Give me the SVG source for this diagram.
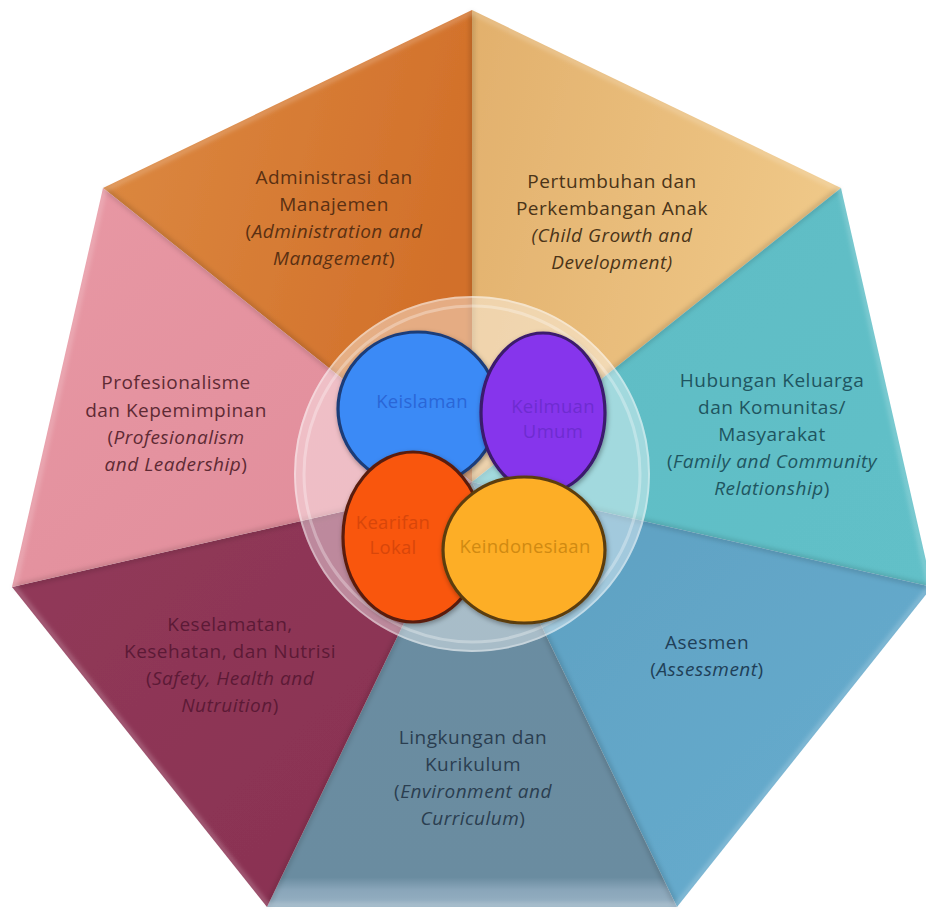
<svg xmlns="http://www.w3.org/2000/svg" width="926" height="914" viewBox="0 0 926 914">
  <defs>
    <linearGradient id="gAdmin" x1="0" y1="0" x2="1" y2="0.3">
      <stop offset="0" stop-color="#DC8A42"/>
      <stop offset="1" stop-color="#D2702A"/>
    </linearGradient>
    <linearGradient id="gTumbuh" x1="0" y1="0" x2="1" y2="0.3">
      <stop offset="0" stop-color="#E2B06C"/>
      <stop offset="1" stop-color="#EFC888"/>
    </linearGradient>
    <linearGradient id="gHub" x1="0" y1="0" x2="1" y2="1">
      <stop offset="0" stop-color="#5EBCC4"/>
      <stop offset="1" stop-color="#62C0C8"/>
    </linearGradient>
    <linearGradient id="gAses" x1="0" y1="0" x2="1" y2="1">
      <stop offset="0" stop-color="#5E9FC0"/>
      <stop offset="1" stop-color="#68AED0"/>
    </linearGradient>
    <linearGradient id="gLing" x1="0" y1="0" x2="0" y2="1">
      <stop offset="0" stop-color="#6A8DA2"/>
      <stop offset="0.93" stop-color="#6A8CA0"/>
      <stop offset="0.96" stop-color="#8AA6BA"/>
      <stop offset="1" stop-color="#96B0C2"/>
    </linearGradient>
    <linearGradient id="gKesel" x1="0" y1="0" x2="1" y2="1">
      <stop offset="0" stop-color="#923A5A"/>
      <stop offset="1" stop-color="#883050"/>
    </linearGradient>
    <linearGradient id="gProf" x1="0" y1="0" x2="1" y2="1">
      <stop offset="0" stop-color="#E898A4"/>
      <stop offset="1" stop-color="#E08C9A"/>
    </linearGradient>
    <filter id="blur" x="-10%" y="-10%" width="120%" height="120%">
      <feGaussianBlur stdDeviation="2.5"/>
    </filter>
    <filter id="shadow" x="-20%" y="-20%" width="140%" height="140%">
      <feDropShadow dx="1" dy="2" stdDeviation="2.5" flood-color="#000" flood-opacity="0.35"/>
    </filter>
    <filter id="soft" x="-5%" y="-5%" width="110%" height="110%">
      <feGaussianBlur stdDeviation="0.6"/>
    </filter>
    <style>
      .lbl { font-family: "Open Sans", "DejaVu Sans", sans-serif; font-size: 19px; letter-spacing: 0.5px; text-anchor: middle; }
      .it { font-style: italic; }
      .sep { stroke: #000; stroke-opacity: 0.18; stroke-width: 4; fill: none; }
      .clbl { font-family: "Open Sans", "DejaVu Sans", sans-serif; font-size: 18.5px; letter-spacing: 0.3px; text-anchor: middle; }
      .ring { stroke-width: 3.2; }
    </style>
  </defs>

  <rect width="926" height="914" fill="#FFFFFF"/>

  <g id="heptagon" filter="url(#soft)">
    <g id="seg-administrasi">
      <path d="M472,482 L103,188 L472,10 Z" fill="url(#gAdmin)"/>
    </g>
    <g id="seg-pertumbuhan">
      <path d="M472,482 L472,10 L841,188 Z" fill="url(#gTumbuh)"/>
    </g>
    <g id="seg-hubungan">
      <path d="M472,482 L841,188 L932,587 Z" fill="url(#gHub)"/>
    </g>
    <g id="seg-asesmen">
      <path d="M472,482 L932,587 L677,907 Z" fill="url(#gAses)"/>
    </g>
    <g id="seg-lingkungan">
      <path d="M472,482 L677,907 L267,907 Z" fill="url(#gLing)"/>
    </g>
    <g id="seg-keselamatan">
      <path d="M472,482 L267,907 L12,587 Z" fill="url(#gKesel)"/>
    </g>
    <g id="seg-profesionalisme">
      <path d="M472,482 L12,587 L103,188 Z" fill="url(#gProf)"/>
    </g>
  </g>

  <g id="connectors" filter="url(#blur)">
    <path class="sep" d="M472,482 L472,12"/>
    <path class="sep" d="M472,482 L105,189"/>
    <path class="sep" d="M472,482 L839,189"/>
    <path class="sep" d="M472,482 L930,587"/>
    <path class="sep" d="M472,482 L676,905"/>
    <path class="sep" d="M472,482 L268,905"/>
    <path class="sep" d="M472,482 L14,587"/>
  </g>

  <g id="outer-rim" fill="none" stroke="#FFFFFF" stroke-opacity="0.35" stroke-width="3" filter="url(#blur)">
    <path d="M472,12 L841,190 L930,587 L677,905 L267,905 L14,587 L104,190 Z"/>
  </g>

  <g id="labels">
    <g id="lbl-administrasi" class="lbl" fill="#5A3012">
      <text x="334" y="184">Administrasi dan</text>
      <text x="334" y="211">Manajemen</text>
      <text x="334" y="238">(<tspan class="it">Administration and</tspan></text>
      <text x="334" y="265"><tspan class="it">Management</tspan>)</text>
    </g>
    <g id="lbl-pertumbuhan" class="lbl" fill="#4A3418">
      <text x="612" y="188">Pertumbuhan dan</text>
      <text x="612" y="215">Perkembangan Anak</text>
      <text x="612" y="242" class="it">(Child Growth and</text>
      <text x="612" y="269" class="it">Development)</text>
    </g>
    <g id="lbl-hubungan" class="lbl" fill="#1F5560">
      <text x="772" y="387">Hubungan Keluarga</text>
      <text x="772" y="414">dan Komunitas/</text>
      <text x="772" y="441">Masyarakat</text>
      <text x="772" y="468">(<tspan class="it">Family and Community</tspan></text>
      <text x="772" y="495"><tspan class="it">Relationship</tspan>)</text>
    </g>
    <g id="lbl-profesionalisme" class="lbl" fill="#5E2A34">
      <text x="176" y="389">Profesionalisme</text>
      <text x="176" y="417">dan Kepemimpinan</text>
      <text x="176" y="444">(<tspan class="it">Profesionalism</tspan></text>
      <text x="176" y="471"><tspan class="it">and Leadership</tspan>)</text>
    </g>
    <g id="lbl-keselamatan" class="lbl" fill="#5C1A36">
      <text x="230" y="631">Keselamatan,</text>
      <text x="230" y="658">Kesehatan, dan Nutrisi</text>
      <text x="230" y="685">(<tspan class="it">Safety, Health and</tspan></text>
      <text x="230" y="712"><tspan class="it">Nutruition</tspan>)</text>
    </g>
    <g id="lbl-asesmen" class="lbl" fill="#1F4058">
      <text x="707" y="649">Asesmen</text>
      <text x="707" y="676">(<tspan class="it">Assessment</tspan>)</text>
    </g>
    <g id="lbl-lingkungan" class="lbl" fill="#2A3E50">
      <text x="473" y="744">Lingkungan dan</text>
      <text x="473" y="771">Kurikulum</text>
      <text x="473" y="798">(<tspan class="it">Environment and</tspan></text>
      <text x="473" y="825"><tspan class="it">Curriculum</tspan>)</text>
    </g>
  </g>

  <g id="center-disc">
    <circle cx="472" cy="474" r="178" fill="#FFFFFF" fill-opacity="0.42"/>
    <circle cx="472" cy="474" r="168" fill="none" stroke="#FFFFFF" stroke-opacity="0.3" stroke-width="3"/>
    <circle cx="472" cy="474" r="177" fill="none" stroke="#FFFFFF" stroke-opacity="0.35" stroke-width="2"/>
  </g>

  <g id="node-keislaman" filter="url(#shadow)">
    <ellipse cx="418" cy="409" rx="80" ry="77" fill="#3A8AF6" stroke="#1E3C78" class="ring"/>
  </g>
  <g id="node-kearifan" filter="url(#shadow)">
    <ellipse cx="413" cy="537" rx="70" ry="85" fill="#F9560A" stroke="#5A1E0C" class="ring"/>
  </g>
  <g id="node-keilmuan" filter="url(#shadow)">
    <ellipse cx="543" cy="413" rx="62" ry="80" fill="#8634EC" stroke="#3A1A6C" class="ring"/>
  </g>
  <g id="node-keindonesiaan" filter="url(#shadow)">
    <ellipse cx="524" cy="550" rx="81" ry="73" fill="#FDAE28" stroke="#5C3E10" class="ring"/>
  </g>

  <g id="center-labels">
    <text class="clbl" x="422" y="408" fill="#2A66D6">Keislaman</text>
    <text class="clbl" x="553" y="413" fill="#6E2CD0">Keilmuan</text>
    <text class="clbl" x="553" y="438" fill="#6E2CD0">Umum</text>
    <text class="clbl" x="393" y="529" fill="#D8460A">Kearifan</text>
    <text class="clbl" x="393" y="554" fill="#D8460A">Lokal</text>
    <text class="clbl" x="525" y="553" fill="#D08A12">Keindonesiaan</text>
  </g>
</svg>
